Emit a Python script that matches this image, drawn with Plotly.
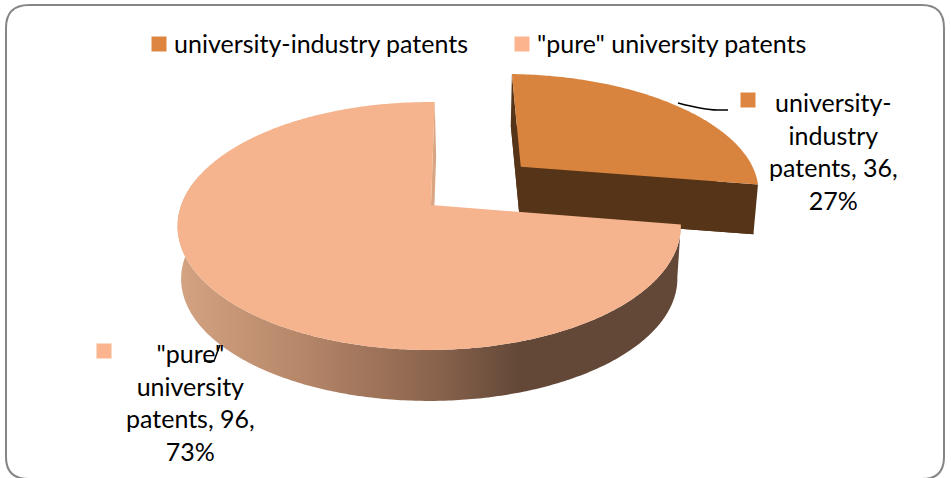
import numpy as np
import plotly.graph_objects as go

# ---- data ----
categories = ["university-industry patents", '"pure" university patents']
values = [36, 96]
percent_labels = ["27%", "73%"]
top_colors = ["#D8843E", "#F5B48E"]
key_colors = ["#DE8640", "#FBB48E"]

# ---- 3D pie projection (camera parameters) ----
CX, CY = 431.0, 205.0
RX, RY, K, KX = 248.0, 120.4, 0.1694, 0.007
DEPTH, LOWER_SCALE = 53.0, 0.986
SLICE_DEPTH = 49.5
START_DEG = 1.0
EXPLODE = 0.5
EXPLODE_V = 1.05
NOTCH_SHIFT = 1.5
FONT = "Lato"
FS = 25


def project(u, v, lower=False, depth=DEPTH):
    w = 1 + K * v + KX * u
    x = RX * u / w
    y = -RY * v / w
    if lower:
        return CX + LOWER_SCALE * x, CY + LOWER_SCALE * y + depth
    return CX + x, CY + y


def poly(xs, ys, color, **kw):
    return go.Scatter(x=list(xs), y=list(ys), mode="none", fill="toself", fillcolor=color,
                      hoverinfo="skip", showlegend=False, **kw)


total = sum(values)
span0 = 360.0 * values[0] / total
a0, a1 = START_DEG, START_DEG + span0
a2 = START_DEG + 360.0

traces = []

# exploded slice
mid = np.radians((a0 + a1) / 2)
ou, ov = EXPLODE * np.sin(mid), EXPLODE * EXPLODE_V * np.cos(mid)
th = np.radians(np.linspace(a0, a1, 120))
u, v = np.sin(th) + ou, np.cos(th) + ov
DARK = "#563418"
lx, ly = project(u, v, True, SLICE_DEPTH)
clx, cly = project(ou, ov, True, SLICE_DEPTH)
tx, ty = project(u, v)
cx0, cy0 = project(ou, ov)
traces.append(poly(np.r_[clx, lx, clx], np.r_[cly, ly, cly], DARK))
traces.append(poly([tx[0], lx[0], clx, cx0, tx[0]], [ty[0], ly[0], cly, cy0, ty[0]], DARK))
traces.append(poly([tx[-1], lx[-1], clx, cx0, tx[-1]], [ty[-1], ly[-1], cly, cy0, ty[-1]], DARK))
traces.append(poly(np.r_[cx0, tx, cx0], np.r_[cy0, ty, cy0], top_colors[0]))

# big slice
th = np.radians(np.linspace(a1, a2, 400))
u, v = np.sin(th), np.cos(th)
tx, ty = project(u, v)
lx, ly = project(u, v, True)
cx1, cy1 = project(0.0, 0.0)
clx1, cly1 = project(0.0, 0.0, True)
# shaded rim: horizontal gradient across the front wall
front = np.degrees(th) <= 285
traces.append(poly(np.r_[tx[front], lx[front][::-1]], np.r_[ty[front], ly[front][::-1]], "#634838",
                   fillgradient=dict(type="horizontal", start=178, stop=680,
                                     colorscale=[[0.0, "#D3A382"], [0.24, "#B7876A"], [0.5, "#8C654E"],
                                                 [0.68, "#634838"], [1.0, "#634838"]])))
# radial wall at the notch
traces.append(poly([tx[-1], lx[-1] + NOTCH_SHIFT, clx1 + NOTCH_SHIFT, cx1, tx[-1]],
                   [ty[-1], ly[-1], cly1, cy1, ty[-1]], "#D9A582"))
traces.append(poly(np.r_[cx1, tx, cx1], np.r_[cy1, ty, cy1], top_colors[1]))

fig = go.Figure(traces)

# legend row
legend_key_x = [159, 522]
legend_y = 44
for name, col, kx in zip(categories, key_colors, legend_key_x):
    fig.add_trace(go.Scatter(x=[kx], y=[legend_y], mode="markers", showlegend=False, hoverinfo="skip",
                             marker=dict(symbol="square", size=15, color=col)))
    fig.add_annotation(x=kx + 13, y=legend_y - 1.5, text=name, showarrow=False, xanchor="left", yanchor="middle",
                       font=dict(family=FONT, size=FS, color="black"))

# data labels
label_pos = [(833.5, 150.5, 748, 100), (190, 402, 104, 351)]
label_lines = [["university-", "industry", "patents, %d," % values[0], percent_labels[0]],
               ['"pure"', "university", "patents, %d," % values[1], percent_labels[1]]]
for lines, (lx_, ly_, kx, ky), col in zip(label_lines, label_pos, key_colors):
    fig.add_trace(go.Scatter(x=[kx], y=[ky], mode="markers", showlegend=False, hoverinfo="skip",
                             marker=dict(symbol="square", size=15, color=col)))
    fig.add_annotation(x=lx_, y=ly_, text="<br>".join(lines), showarrow=False, align="center",
                       xanchor="center", yanchor="middle",
                       font=dict(family=FONT, size=FS, color="black"))

shapes = [
    dict(type="path", xref="x", yref="y", line=dict(color="#868686", width=2), fillcolor="rgba(0,0,0,0)", layer="below",
         path="M 6 28 Q 6 5 29 5 L 922 5 Q 944 5 944 28 L 944 457 Q 944 479 922 479 L 29 479 Q 6 479 6 457 Z"),
    dict(type="path", xref="x", yref="y", line=dict(color="black", width=1.5),
         path="M 678 103 Q 705 110 717 110 L 728 110"),
    dict(type="path", xref="x", yref="y", line=dict(color="black", width=1.5),
         path="M 220 345 L 214 361 L 204 361"),
]

fig.update_layout(
    width=951, height=478, margin=dict(l=0, r=0, t=0, b=0), autosize=False,
    paper_bgcolor="white", plot_bgcolor="white", showlegend=False, shapes=shapes,
    xaxis=dict(range=[0, 951], visible=False, fixedrange=True),
    yaxis=dict(range=[478, 0], visible=False, fixedrange=True),
)
fig.write_html("out.html", config=dict(displayModeBar=False),
               post_script="document.body.style.margin='0';document.body.style.overflow='hidden';")
